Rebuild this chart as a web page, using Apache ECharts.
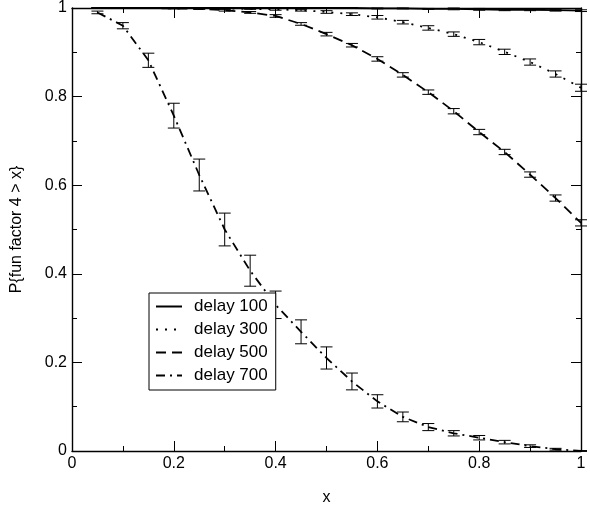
<!DOCTYPE html>
<html>
<head>
<meta charset="utf-8">
<script src="https://cdn.jsdelivr.net/npm/echarts@6/dist/echarts.min.js"></script>
<style>html,body{margin:0;padding:0;background:#fff}#c{width:590px;height:512px}</style>
</head>
<body>
<div id="c"></div>
<script>
var xValues = [0.05,0.10,0.15,0.20,0.25,0.30,0.35,0.40,0.45,0.50,0.55,0.60,0.65,0.70,0.75,0.80,0.85,0.90,0.95,1.00];
var seriesNames = ['delay 100','delay 300','delay 500','delay 700'];
var d100 = [1.0,1.0,1.0,1.0,1.0,1.0,1.0,1.0,1.0,1.0,1.0,0.999,0.999,0.998,0.998,0.997,0.996,0.996,0.995,0.994];
var e100 = [0,0,0,0,0,0,0,0,0,0.001,0.001,0.001,0.001,0.001,0.002,0.002,0.002,0.002,0.002,0.002];
var d300 = [1.0,1.0,1.0,1.0,1.0,0.999,0.998,0.997,0.995,0.991,0.986,0.979,0.968,0.955,0.941,0.923,0.901,0.878,0.851,0.82];
var e300 = [0,0,0,0,0,0.001,0.001,0.002,0.002,0.003,0.003,0.004,0.004,0.005,0.005,0.006,0.006,0.007,0.007,0.008];
var d500 = [1.0,1.0,1.0,0.999,0.998,0.995,0.99,0.982,0.964,0.941,0.916,0.885,0.849,0.81,0.767,0.72,0.675,0.624,0.571,0.515];
var e500 = [0,0,0,0.001,0.001,0.002,0.002,0.003,0.003,0.004,0.004,0.005,0.005,0.005,0.006,0.006,0.006,0.006,0.007,0.007];
var d700 = [0.99,0.96,0.882,0.757,0.623,0.50,0.407,0.33,0.269,0.21,0.157,0.112,0.077,0.054,0.04,0.03,0.02,0.011,0.004,0.0];
var e700 = [0.003,0.007,0.016,0.028,0.036,0.037,0.035,0.031,0.027,0.025,0.019,0.015,0.011,0.008,0.006,0.005,0.004,0.003,0.002,0.001];
var xTicks = [0,0.2,0.4,0.6,0.8,1];
var yTicks = [0,0.2,0.4,0.6,0.8,1];

var means = [d100,d300,d500,d700];
var errs = [e100,e300,e500,e700];
var lineTypes = ['solid',[2,7],[10,6],[9,5,2,5]];
var FONT = '"Liberation Sans", Arial, sans-serif';

function pairs(ys){ return xValues.map(function(x,i){ return [x, ys[i]]; }); }
function errData(ys, es){ return xValues.map(function(x,i){ return [x, ys[i]-es[i], ys[i]+es[i]]; }); }

function renderErr(params, api){
  var x = api.value(0), lo = api.value(1), hi = api.value(2);
  var p1 = api.coord([x, hi]), p2 = api.coord([x, lo]);
  var w = 6;
  var st = {stroke:'#000', lineWidth:1};
  return {type:'group', children:[
    {type:'line', shape:{x1:p1[0], y1:p1[1], x2:p2[0], y2:p2[1]}, style:st},
    {type:'line', shape:{x1:p1[0]-w, y1:p1[1], x2:p1[0]+w, y2:p1[1]}, style:st},
    {type:'line', shape:{x1:p2[0]-w, y1:p2[1], x2:p2[0]+w, y2:p2[1]}, style:st}
  ]};
}

var series = [];
seriesNames.forEach(function(n, k){
  series.push({
    name: n, type:'line', data: pairs(means[k]), symbol:'none', showSymbol:false,
    lineStyle:{color:'#000', width:1.8, type: lineTypes[k]},
    itemStyle:{color:'#000'}, animation:false, z:3
  });
  series.push({
    type:'custom', data: errData(means[k], errs[k]), renderItem: renderErr,
    encode:{x:0, y:[1,2]}, animation:false, silent:true, z:2
  });
});

function baseAxis(extra){
  var a = {
    type:'value', min:0, max:1, interval:0.2,
    axisLine:{show:true, onZero:false, lineStyle:{color:'#000', width:1.4}},
    axisTick:{show:true, inside:true, length:10, lineStyle:{color:'#000', width:1}},
    minorTick:{show:true, splitNumber:2, length:5, lineStyle:{color:'#000', width:1}},
    splitLine:{show:false},
    axisLabel:{show:false}
  };
  for (var k in extra) a[k] = extra[k];
  return a;
}

var chart = echarts.init(document.getElementById('c'), null, {renderer:'canvas'});
chart.setOption({
  animation:false,
  backgroundColor:'#fff',
  grid:{left:72, right:9, top:8, bottom:61},
  xAxis:[
    baseAxis({position:'bottom', name:'x', nameLocation:'middle', nameGap:39,
      nameTextStyle:{color:'#000', fontSize:16, fontFamily:FONT},
      axisLabel:{show:true, color:'#000', fontSize:16, fontFamily:FONT, margin:5,
        formatter:function(v){ return xTicks.indexOf(Math.round(v*10)/10) >= 0 ? String(Math.round(v*10)/10) : ''; }}}),
    baseAxis({position:'top'})
  ],
  yAxis:[
    baseAxis({position:'left', name:'P{fun factor 4 > x}', nameLocation:'middle', nameGap:47,
      nameTextStyle:{color:'#000', fontSize:16, fontFamily:FONT},
      axisLabel:{show:true, color:'#000', fontSize:16, fontFamily:FONT, margin:5,
        formatter:function(v){ return yTicks.indexOf(Math.round(v*10)/10) >= 0 ? String(Math.round(v*10)/10) : ''; }}}),
    baseAxis({position:'right'})
  ],
  legend:{
    data: seriesNames, orient:'vertical', left:149, top:293,
    itemWidth:26, itemHeight:17, itemGap:6,
    padding:[5,8,6,6],
    borderColor:'#000', borderWidth:1, backgroundColor:'#fff', borderRadius:0,
    itemStyle:{opacity:0},
    textStyle:{color:'#000', fontSize:17, fontFamily:FONT, padding:[0,0,0,7]},
    selectedMode:false
  },
  series: series
});
</script>
</body>
</html>
